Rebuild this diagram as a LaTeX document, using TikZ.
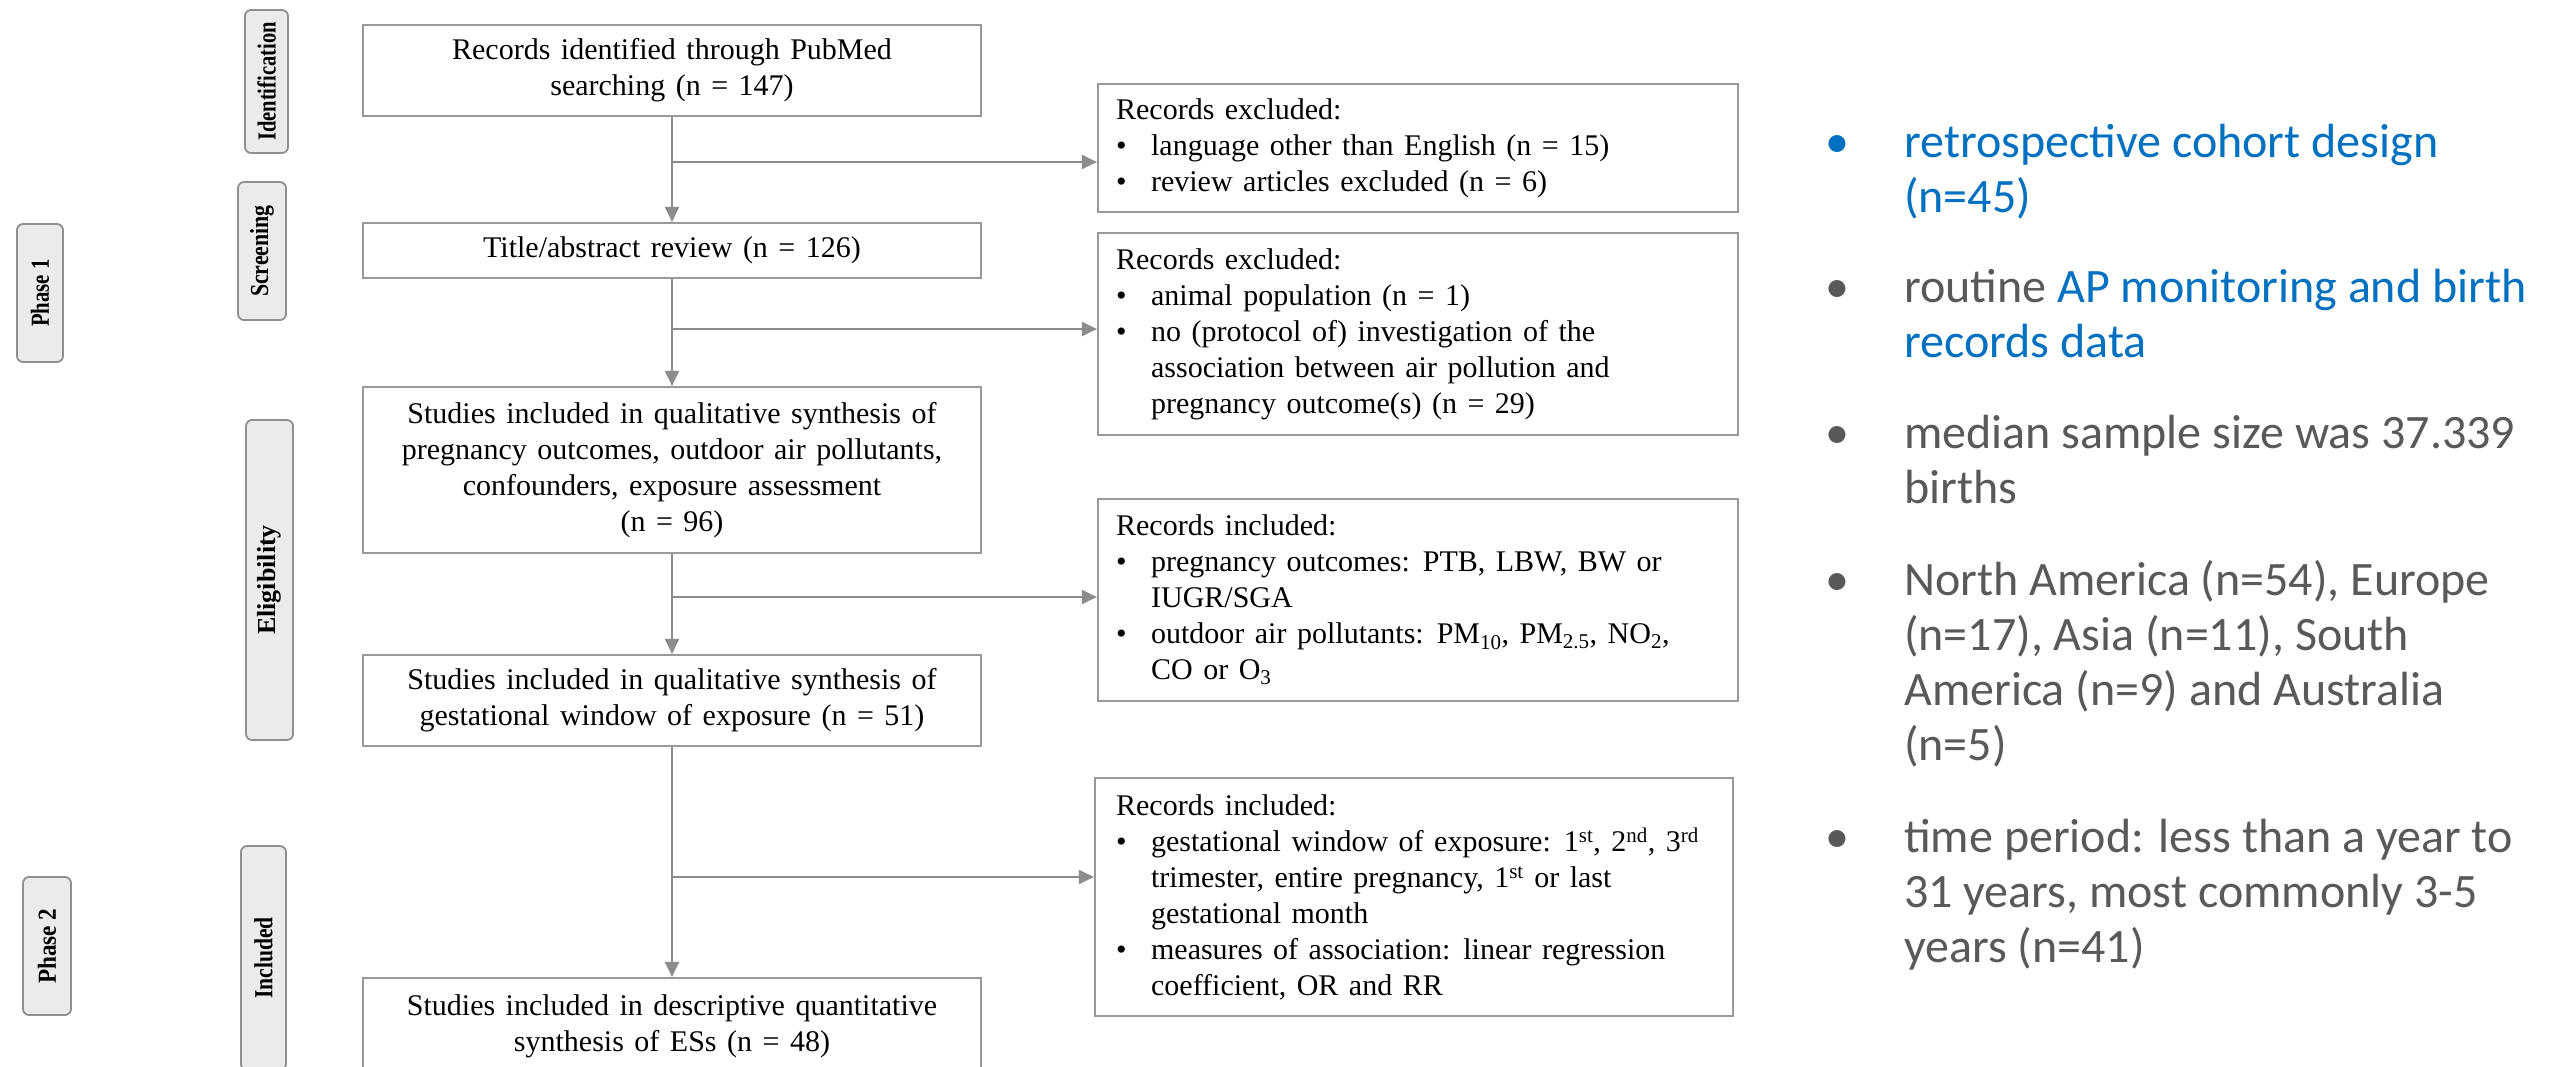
\documentclass[tikz,border=0pt]{standalone}
\usepackage{fontspec}
\setmainfont{Liberation Serif}
\newfontfamily\calib{Carlito}
\usetikzlibrary{arrows.meta,calc}

\definecolor{boxgray}{HTML}{999999}
\definecolor{linegray}{HTML}{8C8C8C}
\definecolor{pillfill}{HTML}{EBEBEB}
\definecolor{pillline}{HTML}{8F8F8F}
\definecolor{txtgray}{HTML}{595959}
\definecolor{hiblue}{HTML}{0070C0}

% body font of the flow boxes, with slightly wider word spaces
\newcommand{\flowfont}{\fontsize{30}{36}\selectfont\spaceskip=0.35em plus 0.1em minus 0.05em\relax}
% rotated, horizontally squeezed label for the stage pills
\newcommand{\pilllabel}[2]{\rotatebox{90}{\scalebox{#1}[1]{\bfseries #2}}}
% bullet and hanging indent inside the side boxes
\newcommand{\bitem}{\makebox[35pt][l]{\textbullet}}
\newcommand{\cont}{\hspace*{35pt}}
% fixed first-line height for the summary list
\newcommand{\sstrut}{\rule{0pt}{38pt}}
\newcommand{\rbul}{\llap{\textbullet\hspace{55pt}}}

\begin{document}
\begin{tikzpicture}[x=1pt, y=-1pt,
  serif/.style={font=\flowfont},
  mainbox/.style={serif, draw=boxgray, line width=2.2pt, fill=white,
    minimum width=618pt, align=center, inner sep=0pt},
  sidebox/.style={draw=boxgray, line width=2.2pt, minimum width=640pt, inner sep=0pt},
  sidetext/.style={serif, align=left, anchor=west, inner sep=0pt},
  pill/.style={draw=pillline, line width=1.8pt, fill=pillfill, rounded corners=6pt,
    inner sep=0pt, font=\fontsize{26}{30}\selectfont},
  link/.style={draw=linegray, line width=2.2pt},
  flow/.style={link, -{Triangle[length=15pt, width=14pt]}},
  summary/.style={anchor=north west, align=left, inner sep=0pt, text=txtgray,
    font=\calib\fontsize{48}{55}\selectfont}
]
\useasboundingbox (0,0) rectangle (2564,1066);
\clip (0,0) rectangle (2564,1066);
\fill[white] (0,0) rectangle (2564,1066);

% stage pills
\node[pill, minimum width=43pt, minimum height=143pt] (pid)  at (266.5,81.5) {\pilllabel{0.79}{Identification}};
\node[pill, minimum width=48pt, minimum height=138pt] (pscr) at (262,251)    {\pilllabel{0.84}{Screening}};
\node[pill, minimum width=46pt, minimum height=138pt] (ph1)  at (40,293)     {\pilllabel{0.80}{Phase 1}};
\node[pill, minimum width=47pt, minimum height=320pt] (pel)  at (269.5,580)  {\pilllabel{1.0}{Eligibility}};
\node[pill, minimum width=45pt, minimum height=224pt] (pinc) at (263.5,958)  {\pilllabel{0.83}{Included}};
\node[pill, minimum width=48pt, minimum height=138pt] (ph2)  at (47,946)     {\pilllabel{0.89}{Phase 2}};

% main flow boxes
\node[mainbox, minimum height=91pt]  (a) at (672,70.5) {Records identified through PubMed\\searching (n = 147)};
\node[mainbox, minimum height=55pt]  (b) at (672,250.5) {Title/abstract review (n = 126)};
\node[mainbox, minimum height=166pt] (c) at (672,470) {Studies included in qualitative synthesis of\\pregnancy outcomes, outdoor air pollutants,\\confounders, exposure assessment\\(n = 96)};
\node[mainbox, minimum height=91pt]  (d) at (672,700.5) {Studies included in qualitative synthesis of\\gestational window of exposure (n = 51)};
\node[mainbox, minimum height=96pt]  (e) at (672,1026) {Studies included in descriptive quantitative\\synthesis of ESs (n = 48)};

% side boxes
\node[sidebox, minimum height=128pt] (r1) at (1418,148) {};
\node[sidebox, minimum height=202pt] (r2) at (1418,334) {};
\node[sidebox, minimum height=202pt] (r3) at (1418,600) {};
\node[sidebox, minimum width=638pt, minimum height=238pt] (r4) at (1414,897) {};

\node[sidetext] (r1t) at ($(r1.west)+(19,0)$) {Records excluded:\\
\bitem language other than English (n = 15)\\
\bitem review articles excluded (n = 6)};
\node[sidetext] (r2t) at ($(r2.west)+(19,0)$) {Records excluded:\\
\bitem animal population (n = 1)\\
\bitem no (protocol of) investigation of the\\
\cont association between air pollution and\\
\cont pregnancy outcome(s) (n = 29)};
\node[sidetext] (r3t) at ($(r3.west)+(19,0)$) {Records included:\\
\bitem pregnancy outcomes: PTB, LBW, BW or\\
\cont IUGR/SGA\\
\bitem outdoor air pollutants: PM\textsubscript{10}, PM\textsubscript{2.5}, NO\textsubscript{2},\\
\cont CO or O\textsubscript{3}};
\node[sidetext] (r4t) at ($(r4.west)+(22,0)$) {Records included:\\
\bitem gestational window of exposure: 1\textsuperscript{st}, 2\textsuperscript{nd}, 3\textsuperscript{rd}\\
\cont trimester, entire pregnancy, 1\textsuperscript{st} or last\\
\cont gestational month\\
\bitem measures of association: linear regression\\
\cont coefficient, OR and RR};

% connectors
\draw[flow] (a.south) -- (b.north);
\draw[flow] (b.south) -- (c.north);
\draw[flow] (c.south) -- (d.north);
\draw[flow] (d.south) -- (e.north);

\coordinate (j1) at (672,162);
\coordinate (j2) at (672,329);
\coordinate (j3) at (672,597);
\coordinate (j4) at (672,877);
\draw[flow] (j1) -- (j1 -| r1.west);
\draw[flow] (j2) -- (j2 -| r2.west);
\draw[flow] (j3) -- (j3 -| r3.west);
\draw[flow] (j4) -- (j4 -| r4.west);

% summary list
\node[summary, text=hiblue] (s1) at (1904,119) {\rbul\sstrut retrospective cohort design\\(n=45)};
\node[summary] (s2) at (1904,264) {\rbul\sstrut routine \textcolor{hiblue}{AP monitoring and birth}\\\textcolor{hiblue}{records data}};
\node[summary] (s3) at (1904,410) {\rbul\sstrut median sample size was 37.339\\births};
\node[summary] (s4) at (1904,557) {\rbul\sstrut North America (n=54), Europe\\(n=17), Asia (n=11), South\\America (n=9) and Australia\\(n=5)};
\node[summary] (s5) at (1904,814) {\rbul\sstrut time period: less than a year to\\31 years, most commonly 3-5\\years (n=41)};
\end{tikzpicture}
\end{document}
